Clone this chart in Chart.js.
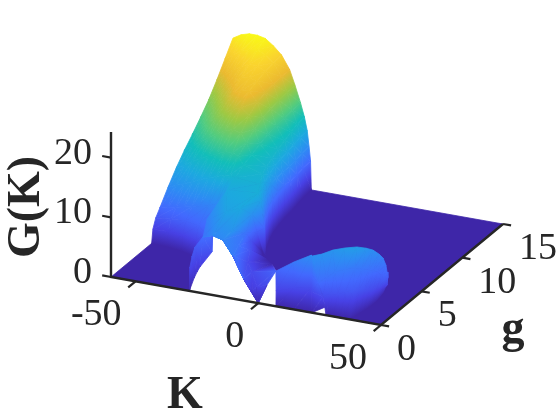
<!DOCTYPE html>
<html>
<head>
<meta charset="utf-8">
<script src="https://cdn.jsdelivr.net/npm/chart.js@4"></script>
<style>
  html, body { margin: 0; padding: 0; background: #fff; }
  canvas { display: block; }
</style>
</head>
<body>
<canvas id="surfaceChart" width="560" height="420"></canvas>
<script>
// tick labels
const kTicks = [-50, 0, 50];
const gTicks = [0, 5, 10, 15];
const zTicks = [0, 10, 20];

// floor outline, z = 0
const floorK = [-60, -28.1, -37.9, -45.7, -34.9, -27, -15.4, -11.3, -6.3, 5.3, 12.7, 18.1, 26, 29.7, 50, 50, -60];
const floorG = [0, 0, 3.65, 7.6, 8.3, 6.88, 5.11, 5.08, 4.21, 0.81, 2.77, 2.38, 0.96, 0, 0, 15, 15];

// big ridge, rows run from g = 15 to g = 6, its right wall moves with g
const ridgeLeftK = [-60, -56.7, -53.4, -50.1, -46.8, -43.5, -40.2, -36.9, -34.7, -32.5];
const ridgeRightK = [
  [-30.9, -29.75, -29, -28.4, -28.1],
  [-30.5, -29.4, -28.65, -28.1, -27.8],
  [-29.75, -28.65, -27.9, -27.3, -27],
  [-29, -27.9, -27.1, -26.6, -26.2],
  [-28.4, -27.3, -26.6, -26, -25.7],
  [-27.55, -26.45, -25.7, -25.1, -24.8],
  [-26.45, -25.35, -24.6, -24, -23.7],
  [-24.8, -23.7, -22.9, -22.4, -22],
  [-22.6, -21.5, -20.7, -20.2, -19.85],
  [-19.85, -18.75, -18, -17.4, -17.1]
];
const ridgeG = [15, 14, 13, 12, 11, 10, 9, 8, 7, 6];
const ridgeZ = [
  [23.1, 23.9, 24.3, 24.3, 24, 23, 21.7, 19.5, 17, 14.3, 12, 9.8, 7.2, 4.8, 0],
  [20.7, 21.7, 22.5, 23, 23.3, 22.6, 21.5, 19.5, 17, 14.2, 12, 9.8, 7.2, 4.8, 0],
  [18.3, 19.4, 20.5, 21.3, 22, 21.9, 21.2, 19.3, 16.8, 14, 11.9, 9.8, 7.2, 4.8, 0],
  [16.1, 17.3, 18.6, 19.7, 20.8, 21, 20.8, 19, 16.5, 13.8, 11.6, 9.8, 7.4, 5, 0],
  [14.3, 15.5, 16.8, 18, 19.3, 20, 20.2, 18.6, 16.1, 13.5, 11.3, 9.8, 7.6, 5.5, 0],
  [12.6, 13.8, 15, 16.2, 17.2, 18, 18.5, 17.4, 15.3, 13, 11, 9.8, 7.8, 5.5, 0],
  [11, 12, 13, 13.9, 14.8, 15.5, 16, 15.6, 14.2, 12.4, 10.8, 9.6, 8, 5.5, 0],
  [9.2, 10, 10.8, 11.5, 12.2, 12.8, 13.4, 13.5, 13, 11.8, 10.8, 9.6, 8, 5.5, 0],
  [7.1, 7.7, 8.2, 8.8, 9.4, 9.9, 10.4, 10.9, 11, 10.8, 10.4, 9.6, 7.8, 5, 0],
  [4.8, 5.1, 5.4, 5.7, 6, 6.3, 6.6, 7.2, 7.8, 9.8, 10.3, 9, 7, 4.5, 0]
];

// foot of the ridge near g = 5
const footK = [
  [-60, -53.4, -46.8, -40.2, -35.8],
  [-60, -53.4, -46.8, -40.2, -35.8],
  [-60, -53.4, -46.8, -40.2, -35.8],
  [-60, -53.4, -46.8, -40.2, -35.8]
];
const footG = [
  [6, 6, 6, 6, 6],
  [5.5, 5.4, 5.2, 4.8, 4.3],
  [5.15, 5.05, 4.85, 4.45, 3.65],
  [5, 4.9, 4.7, 4.3, 3.5]
];
const footZ = [
  [4.8, 5.4, 6, 6.6, 7.4],
  [3.7, 4.1, 4.5, 4.6, 4.2],
  [2.2, 2.4, 2.6, 2.6, 2.4],
  [0, 0, 0, 0, 0]
];

// small wedge left of the hole
const wedgeK = [
  [-28.1, -30.8, -32.8, -34.3, -32.8, -30.5],
  [-28.1, -28.8, -29.3, -29.4, -28.3, -30.5]
];
const wedgeG = [
  [0, 0.89, 1.77, 2.57, 3.1, 3.56],
  [0, 0.8, 1.31, 1.7, 2.84, 3.56]
];
const wedgeZ = [
  [0, 2.8, 3.5, 4, 5.2, 5],
  [0, 1.2, 1.6, 2, 3.3, 5]
];

// central part running down to K = 0
const centreK = [
  [-36.9, -32.5, -19.85, -18.75, -17.4, -17.1],
  [-35.2, -25.6, -21.2, -19.3, -19.1, -19.9],
  [-31.8, -25.7, -18.9, -19, -19.1, -17.5],
  [-25.7, -25.7, -20.5, -15.9, -15.6, -14.2],
  [-20.5, -20.5, -20.5, -13.1, -12.9, -10.8],
  [-13.1, -13.1, -13.1, -5.9, -7.5, 3.8],
  [-5.9, -5.9, -5.9, -2.5, -0.9, 2.8],
  [0, 0, 0, 0, 0, 0]
];
const centreG = [
  [6, 6, 6, 6, 6, 6],
  [4.31, 3.76, 4.16, 5.04, 5.6, 6.46],
  [2.81, 2.18, 2.48, 4.23, 4.89, 5.87],
  [2.18, 2.18, 1.84, 2.32, 3.69, 5.49],
  [1.84, 1.84, 1.84, 0.84, 2.62, 4.93],
  [0.84, 0.84, 0.84, 0, 1.48, 1.02],
  [0, 0, 0, 0, 0.12, 0.22],
  [0, 0, 0, 0, 0, 0]
];
const centreZ = [
  [7.2, 9.8, 10.3, 9, 4.5, 0],
  [6.5, 9.2, 9.7, 7.8, 4.2, 0],
  [5.6, 7, 8, 5.6, 3.5, 0],
  [7, 7, 7, 5.8, 3.6, 0],
  [7, 7, 7, 6, 3, 0.2],
  [6, 6, 6, 3.6, 3, 4.5],
  [3.6, 3.6, 3.6, 2, 2.5, 3],
  [0, 0, 0, 0, 0, 0]
];

// flat sided block on the right
const blockK = [
  [3.8, 9.8, 16.5],
  [7.1, 13.1, 19.4],
  [7.2, 14.6, 21.8]
];
const blockG = [
  [1.02, 1.43, 1.56],
  [0.05, 0.44, 0.69],
  [0, 0, 0]
];
const blockZ = [
  [4.5, 6, 7.5],
  [2.5, 3, 3.3],
  [0, 0, 0]
];

// right hump
const humpK = [
  [17.1, 20.3, 22.9, 27.5, 31.6, 33.7, 35.1, 37.5, 39.3, 40.9, 42.7, 43.1, 42.8],
  [24, 25.8, 27.6, 30.2, 32.7, 34.9, 37, 38.3, 39.6, 41.2, 42.8, 42.4, 41.9],
  [26.4, 29, 31.5, 33.8, 36.1, 37.4, 38.7, 39.6, 40.4, 40.6, 40.8, 40.4, 40],
  [27.6, 30.4, 33.3, 35.2, 37.2, 37.7, 38.1, 38.5, 38.8, 38.9, 39, 38.6, 38.1]
];
const humpG = [
  [1.45, 1.69, 2.28, 2.35, 2.59, 3.08, 3.51, 3.52, 3.48, 3.35, 2.95, 2.94, 2.92],
  [0.11, 0.6, 1.09, 1.55, 2.01, 2.23, 2.44, 2.6, 2.75, 2.7, 2.66, 2.92, 3.19],
  [0, 0.15, 0.29, 0.5, 0.74, 1.1, 1.44, 1.68, 1.91, 2.28, 2.65, 3.08, 3.5],
  [0, 0, 0, 0, 0.05, 0.5, 1, 1.4, 1.79, 2.24, 2.69, 3.25, 3.82]
];
const humpZ = [
  [7.5, 7.8, 8, 8.6, 8.8, 8.2, 7.5, 7, 6.5, 5.6, 5, 4.2, 3.2],
  [5, 5.5, 6, 6.1, 6, 5.8, 5.5, 5.2, 5, 4.5, 4, 3.2, 2.5],
  [3.2, 3.4, 3.5, 3.8, 4, 3.7, 3.4, 3.2, 3, 2.6, 2.2, 1.8, 1.5],
  [0, 0, 0, 0, 0.3, 0, 0, 0, 0, 0, 0, 0, 0]
];

// lens between block and hump
const lensK = [
  [17.1, 19.4],
  [18.7, 23.5],
  [20.3, 26.3],
  [21.8, 26.9]
];
const lensG = [
  [1.45, 0.99],
  [0.95, 0.25],
  [0.48, 0],
  [0, 0.09]
];
const lensZ = [
  [7.5, 7.2],
  [5, 4.8],
  [2.8, 3],
  [0, 1.2]
];

const kLim = [-60, 50];
const gLim = [0, 15];
const zTop = 24.3;
const zMax = 24.4;

const inkColor = '#262626';
const parula = [
  [62, 38, 168], [71, 65, 229], [66, 105, 254], [45, 140, 243], [28, 169, 223],
  [18, 190, 185], [84, 204, 125], [157, 201, 67], [235, 186, 48], [250, 212, 46], [249, 251, 21]
];

// fixed view of the MATLAB axes
function project(k, g, z) {
  return {
    x: 111 + (k - kLim[0]) * 2.4545 + g * 8.133,
    y: 277 + (k - kLim[0]) * 0.4364 - g * 6.733 - z * 5.97
  };
}

function colorAt(z) {
  const t = Math.min(Math.max(z / zMax, 0), 1) * (parula.length - 1);
  const i = Math.min(Math.floor(t), parula.length - 2);
  const f = t - i;
  const c = parula[i].map((v, n) => Math.round(v + (parula[i + 1][n] - v) * f));
  return 'rgb(' + c.join(',') + ')';
}

// colour only depends on z, so one linear gradient shades a whole triangle
function triangleGradient(ctx, p, z) {
  const x1 = p[1].x - p[0].x, y1 = p[1].y - p[0].y;
  const x2 = p[2].x - p[0].x, y2 = p[2].y - p[0].y;
  const z1 = z[1] - z[0], z2 = z[2] - z[0];
  const det = x1 * y2 - x2 * y1;
  const lo = Math.min(z[0], z[1], z[2]);
  const hi = Math.max(z[0], z[1], z[2]);
  if (Math.abs(det) < 1e-6 || hi - lo < 1e-6) return colorAt((lo + hi) / 2);
  const gx = (z1 * y2 - z2 * y1) / det;
  const gy = (x1 * z2 - x2 * z1) / det;
  const n = gx * gx + gy * gy;
  const at = v => ({ x: p[0].x + gx * (v - z[0]) / n, y: p[0].y + gy * (v - z[0]) / n });
  const a = at(lo), b = at(hi);
  const grad = ctx.createLinearGradient(a.x, a.y, b.x, b.y);
  const step = zMax / (parula.length - 1);
  grad.addColorStop(0, colorAt(lo));
  for (let v = Math.ceil(lo / step) * step; v < hi; v += step) {
    if (v > lo) grad.addColorStop((v - lo) / (hi - lo), colorAt(v));
  }
  grad.addColorStop(1, colorAt(hi));
  return grad;
}

const canvas = document.getElementById('surfaceChart');
const ctx = canvas.getContext('2d');
const layers = [];

function addPolygon(points, color) {
  layers.push({
    data: points.concat([points[0]]),
    showLine: true,
    fill: 'shape',
    tension: 0,
    pointRadius: 0,
    borderWidth: 0.8,
    borderColor: color,
    backgroundColor: color
  });
}

function addTriangle(verts) {
  const p = verts.map(v => project(v[0], v[1], v[2]));
  addPolygon(p, triangleGradient(ctx, p, verts.map(v => v[2])));
}

function addPatch(K, G, Z) {
  for (let r = 0; r < Z.length - 1; r++) {
    for (let c = 0; c < Z[r].length - 1; c++) {
      const a = [K[r][c], G[r][c], Z[r][c]];
      const b = [K[r][c + 1], G[r][c + 1], Z[r][c + 1]];
      const d = [K[r + 1][c], G[r + 1][c], Z[r + 1][c]];
      const e = [K[r + 1][c + 1], G[r + 1][c + 1], Z[r + 1][c + 1]];
      addTriangle([a, b, d]);
      addTriangle([b, e, d]);
    }
  }
}

function addLine(points, width) {
  layers.push({
    data: points,
    showLine: true,
    fill: false,
    tension: 0,
    pointRadius: 0,
    borderWidth: width,
    borderColor: inkColor
  });
}

addPolygon(floorK.map((k, i) => project(k, floorG[i], 0)), colorAt(0));
addPatch(ridgeRightK.map(row => ridgeLeftK.concat(row)), ridgeG.map(g => ridgeZ[0].map(() => g)), ridgeZ);
addPatch(footK, footG, footZ);
addPatch(wedgeK, wedgeG, wedgeZ);
addPatch(centreK, centreG, centreZ);
addPatch(blockK, blockG, blockZ);
addPatch(humpK, humpG, humpZ);
addPatch(lensK, lensG, lensZ);

addLine([project(kLim[0], 0, zTop), project(kLim[0], 0, 0), project(kLim[1], 0, 0), project(kLim[1], gLim[1], 0)], 2.4);
kTicks.forEach(k => addLine([project(k, 0, 0), project(k, -0.9, 0)], 2.2));
gTicks.forEach(g => addLine([project(kLim[1], g, 0), project(kLim[1] + 3.3, g, 0)], 2.2));
zTicks.forEach(z => addLine([project(kLim[0], 0, z), project(kLim[0] - 3.6, 0, z)], 2.2));

const axisText = {
  id: 'axisText',
  afterDraw(chart) {
    const c = chart.ctx;
    const sx = chart.scales.x, sy = chart.scales.y;
    const put = (text, p, dx, dy, align) => {
      c.textAlign = align;
      c.fillText(text, sx.getPixelForValue(p.x) + dx, sy.getPixelForValue(p.y) + dy);
    };
    c.save();
    c.fillStyle = inkColor;
    c.textBaseline = 'middle';
    c.font = '38px "Liberation Serif"';
    zTicks.forEach(z => put(String(z), project(kLim[0], 0, z), -19, -4, 'right'));
    kTicks.forEach(k => put(String(k), project(k, 0, 0), -14, 34, 'right'));
    gTicks.forEach(g => put(String(g), project(kLim[1], g, 0), 16, 25, 'left'));
    c.font = 'bold 46px "Liberation Serif"';
    c.textAlign = 'center';
    c.fillText('K', 185, 396);
    c.fillText('g', 513, 330);
    c.translate(27, 207);
    c.rotate(-Math.PI / 2);
    c.fillText('G(K)', 0, 0);
    c.restore();
  }
};

// first dataset is painted last by Chart.js, so hand them over far-side last
new Chart(ctx, {
  type: 'scatter',
  data: { datasets: layers.slice().reverse() },
  options: {
    responsive: false,
    animation: false,
    events: [],
    layout: { padding: 0 },
    plugins: { legend: { display: false }, tooltip: { enabled: false } },
    scales: {
      x: { type: 'linear', display: false, min: 0, max: 560 },
      y: { type: 'linear', display: false, min: 0, max: 420, reverse: true }
    }
  },
  plugins: [axisText]
});
</script>
</body>
</html>
